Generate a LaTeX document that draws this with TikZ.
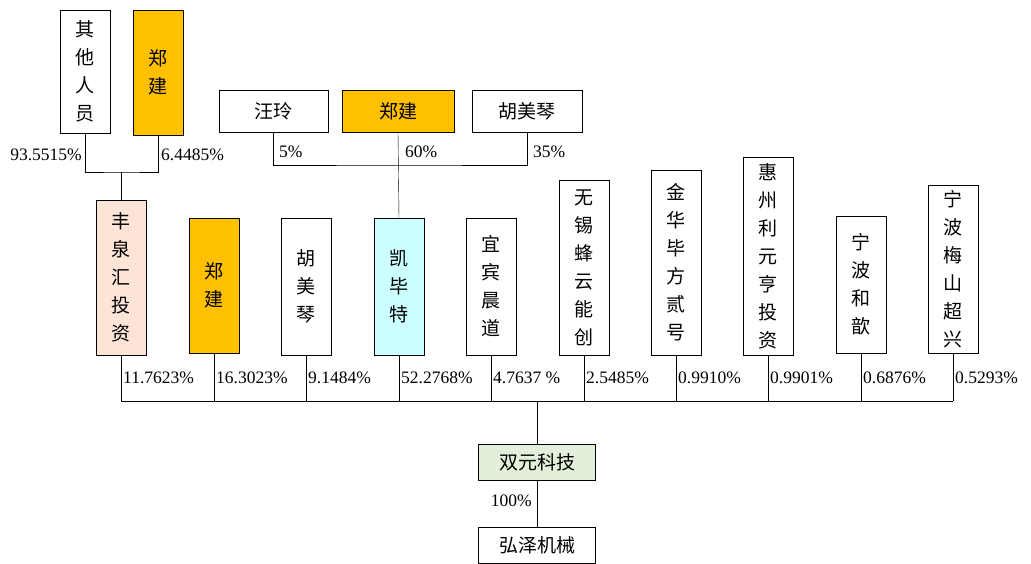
\documentclass[tikz,border=0pt]{standalone}
\usepackage{fontspec}
\setmainfont{Liberation Serif}
\newfontfamily\cjk{Noto Sans CJK SC}
\usetikzlibrary{positioning}
\definecolor{boxOrange}{HTML}{FFC000}
\definecolor{boxPeach}{HTML}{FCE4D6}
\definecolor{boxCyan}{HTML}{CCFFFF}
\definecolor{boxGreen}{HTML}{E2EFDA}
\begin{document}
\begin{tikzpicture}[x=1pt,y=-1pt,
  box/.style={draw,thin,inner sep=0pt,align=center,font=\cjk\fontsize{19}{28}\selectfont},
  vbox/.style={box,minimum width=50pt},
  hbox/.style={box,minimum height=42pt},
  pct/.style={font=\fontsize{17.5}{19}\selectfont,inner sep=1pt},
  link/.style={draw,thin}]
  \useasboundingbox (0,0) rectangle (1031,564);

  % top owners
  \node[vbox,minimum height=123pt] (qt) at (85,71.5) {其\\他\\人\\员};
  \node[vbox,minimum height=125pt,fill=boxOrange] (zj1) at (158,72.5) {郑\\建};
  \node[hbox,minimum width=109pt] (wl) at (273.5,111) {汪玲};
  \node[hbox,minimum width=112pt,fill=boxOrange] (zj2) at (398,111) {郑建};
  \node[hbox,minimum width=110pt] (hm1) at (527,111) {胡美琴};

  % shareholders
  \node[vbox,minimum height=155pt,fill=boxPeach] (fq) at (121,277.5) {丰\\泉\\汇\\投\\资};
  \node[vbox,minimum height=135pt,fill=boxOrange] (zj3) at (214,285.5) {郑\\建};
  \node[vbox,minimum height=137pt] (hm2) at (306,286.5) {胡\\美\\琴};
  \node[vbox,minimum height=137pt,fill=boxCyan] (kbt) at (399,286.5) {凯\\毕\\特};
  \node[vbox,minimum height=137pt] (yb) at (491,286.5) {宜\\宾\\晨\\道};
  \node[vbox,minimum height=175pt] (wx) at (584,267.5) {无\\锡\\蜂\\云\\能\\创};
  \node[vbox,minimum height=185pt] (jh) at (676,262.5) {金\\华\\毕\\方\\贰\\号};
  \node[vbox,minimum height=198pt] (hz) at (768,256) {惠\\州\\利\\元\\亨\\投\\资};
  \node[vbox,minimum height=137pt] (nb1) at (861,284.5) {宁\\波\\和\\歆};
  \node[vbox,minimum height=168pt] (nb2) at (953,269) {宁\\波\\梅\\山\\超\\兴};

  \node[hbox,minimum width=117pt,minimum height=36pt,fill=boxGreen] (sy) at (537,462) {双元科技};
  \node[hbox,minimum width=117pt,minimum height=36pt] (hz2) at (537,545) {弘泽机械};

  % top links
  \draw[link] (qt.south) |- (121,172) -| (zj1.south);
  \draw[link] (121,172) -- (fq.north);
  \node[pct,anchor=east] (p1) at (83,155) {93.5515\%};
  \node[pct,anchor=west] (p2) at (160,155) {6.4485\%};
  \draw[link] (wl.south) |- (398,165) -| (hm1.south);
  \draw[link] (zj2.south) -- (kbt.north);
  \node[pct,anchor=west] (p3) at (278,152) {5\%};
  \node[pct,anchor=west] (p4) at (404,152) {60\%};
  \node[pct,anchor=west] (p5) at (532,152) {35\%};

  % bus to 双元科技
  \coordinate (bus) at (537,401);
  \foreach \n/\v in {fq/11.7623\%,zj3/16.3023\%,hm2/9.1484\%,kbt/52.2768\%,yb/4.7637 \%,
                     wx/2.5485\%,jh/0.9910\%,hz/0.9901\%,nb1/0.6876\%,nb2/0.5293\%}{
    \draw[link] (\n.south) -- (\n.south |- bus);
    \node[pct,anchor=west] at ([xshift=1pt]\n.south |- 0,378) {\v};
  }
  \draw[link] (fq.south |- bus) -- (nb2.south |- bus);
  \draw[link] (bus) -- (sy.north);
  \draw[link] (sy.south) -- (hz2.north);
  \node[pct,anchor=east] (p6) at (533,501) {100\%};
\end{tikzpicture}
\end{document}
